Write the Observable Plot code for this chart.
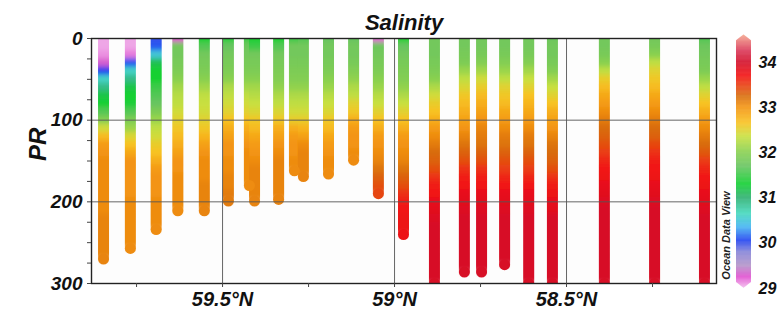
<!DOCTYPE html>
<html>
<head>
<meta charset="utf-8">
<script src="https://cdn.jsdelivr.net/npm/d3@7"></script>
<script src="https://cdn.jsdelivr.net/npm/@observablehq/plot@0.6"></script>
<style>
  html, body { margin: 0; padding: 0; background: #fff; }
  #wrap { position: relative; width: 779px; height: 316px; overflow: hidden; }
  #wrap svg { position: absolute; top: 0; }
</style>
</head>
<body>
<div id="wrap"></div>
<script>
// ---- Data (Ocean Data View salinity section) ----
const chartTitle = "Salinity";
const yLabel = "PR";
const watermark = "Ocean Data View";

// station latitudes (°N), west/north on the left
const stationLat = [59.846, 59.768, 59.693, 59.630, 59.553, 59.483, 59.422, 59.407,
  59.337, 59.291, 59.265, 59.192, 59.119, 59.047, 58.974, 58.884,
  58.797, 58.747, 58.680, 58.610, 58.541, 58.390, 58.244, 58.099];

// deepest sample of each station (dbar)
const stationBottom = [270, 257, 234, 211, 211, 199, 180, 199,
  197, 162, 169, 166, 149, 190, 240, 300,
  286, 286, 277, 300, 300, 300, 300, 300];

// salinity every 10 dbar starting at 0 (last value reaches the bottom)
const salinityProfiles = [
  [29.05,29.05,29.1,29.3,30.05,30.6,30.9,31.2,31.3,31.6,31.95,32.4,32.7,32.95,33.0,33.05,33.05,33.05,33.05,33.05,33.05,33.05,33.1,33.1,33.1,33.1,33.1,33.1],
  [29.05,29.05,29.15,30.1,30.6,30.9,31.2,31.3,31.35,31.6,31.9,32.1,32.45,32.65,32.85,33.0,33.0,33.0,33.0,33.0,33.05,33.05,33.05,33.05,33.05,33.05],
  [30.0,30.1,30.5,31.15,31.3,31.3,31.5,31.6,31.7,31.9,32.1,32.3,32.4,32.55,32.65,32.8,32.95,33.0,33.0,33.0,33.05,33.05,33.05,33.05],
  [29.25,31.8,31.8,31.85,31.9,32.0,32.15,32.25,32.3,32.4,32.5,32.6,32.7,32.8,32.9,33.0,33.0,33.05,33.05,33.05,33.05,33.05],
  [31.3,31.6,31.8,31.85,31.9,32.0,32.15,32.3,32.35,32.4,32.5,32.6,32.75,32.9,33.0,33.05,33.05,33.05,33.1,33.1,33.1,33.1],
  [31.4,31.7,31.8,31.85,31.9,32.0,32.2,32.3,32.4,32.5,32.65,32.8,32.9,33.0,33.0,33.05,33.05,33.1,33.1,33.15],
  [31.5,31.75,31.8,31.85,31.9,32.0,32.15,32.3,32.4,32.5,32.65,32.8,32.9,33.0,33.05,33.05,33.05,33.05,33.05],
  [31.3,31.5,31.8,31.85,31.9,32.0,32.15,32.25,32.35,32.45,32.6,32.7,32.85,32.95,33.0,33.05,33.1,33.1,33.1,33.1],
  [31.3,31.6,31.8,31.85,31.9,31.95,32.05,32.2,32.3,32.45,32.6,32.8,32.9,33.0,33.05,33.1,33.1,33.1,33.1,33.1],
  [31.5,31.8,31.8,31.85,31.9,31.95,32.05,32.2,32.3,32.4,32.55,32.8,32.95,33.0,33.0,33.05,33.05],
  [31.6,31.8,31.8,31.85,31.9,31.95,32.05,32.2,32.3,32.4,32.55,32.75,32.9,33.05,33.1,33.1,33.1],
  [31.7,31.8,31.8,31.85,31.9,32.0,32.1,32.25,32.35,32.45,32.6,32.7,32.85,32.95,33.0,33.05,33.05],
  [31.7,31.8,31.8,31.85,31.95,32.05,32.2,32.3,32.5,32.6,32.8,32.95,33.0,33.0,33.05],
  [29.2,31.75,31.8,31.85,31.9,32.0,32.1,32.25,32.35,32.5,32.65,32.8,32.95,33.0,33.05,33.1,33.2,33.3,33.4,33.45],
  [31.3,31.7,31.8,31.85,31.9,31.95,32.05,32.2,32.35,32.5,32.65,32.8,32.95,33.0,33.05,33.1,33.2,33.3,33.4,33.55,33.65,33.7,33.75,33.75,33.75],
  [31.8,31.8,31.8,31.85,31.9,32.0,32.2,32.4,32.55,32.65,32.8,32.95,33.05,33.15,33.25,33.3,33.4,33.55,33.65,33.7,33.8,33.85,33.9,33.95,33.95,33.95,33.95,33.95,33.95,33.95,33.95],
  [31.8,31.8,31.85,31.9,32.1,32.3,32.45,32.6,32.7,32.8,32.9,33.0,33.1,33.2,33.3,33.4,33.55,33.65,33.7,33.8,33.85,33.9,33.95,33.95,33.95,33.95,33.95,33.95,33.95],
  [31.8,31.8,31.85,31.95,32.15,32.4,32.55,32.7,32.8,32.9,33.0,33.1,33.15,33.2,33.3,33.4,33.55,33.65,33.7,33.8,33.85,33.9,33.95,33.95,33.95,33.95,33.95,33.95,33.95],
  [31.8,31.8,31.85,31.95,32.1,32.3,32.5,32.6,32.7,32.85,32.95,33.05,33.15,33.2,33.3,33.4,33.5,33.6,33.7,33.8,33.85,33.9,33.95,33.95,33.95,33.95,33.95,33.95],
  [31.8,31.8,31.85,31.95,32.15,32.35,32.5,32.65,32.75,32.85,32.95,33.05,33.15,33.2,33.3,33.4,33.5,33.6,33.7,33.8,33.85,33.9,33.95,33.95,33.95,33.95,33.95,33.95,33.95,33.95,33.95],
  [31.75,31.8,31.8,31.85,31.95,32.15,32.35,32.5,32.65,32.8,32.9,33.0,33.1,33.2,33.25,33.3,33.4,33.55,33.65,33.75,33.8,33.85,33.95,33.95,33.95,33.95,33.95,33.95,33.95,33.95,33.95],
  [31.8,31.8,31.85,32.0,32.3,32.55,32.7,32.85,32.95,33.05,33.15,33.25,33.3,33.4,33.5,33.6,33.7,33.75,33.8,33.85,33.9,33.95,33.95,33.95,33.95,33.95,33.95,33.95,33.95,33.95,33.95],
  [31.8,31.85,32.0,32.3,32.5,32.6,32.7,32.85,32.95,33.05,33.15,33.25,33.3,33.45,33.55,33.65,33.7,33.75,33.8,33.85,33.9,33.95,33.95,33.95,33.95,33.95,33.95,33.95,33.95,33.95,33.95],
  [31.6,31.75,31.8,31.85,31.9,32.1,32.3,32.5,32.65,32.8,32.95,33.05,33.15,33.25,33.35,33.5,33.6,33.7,33.75,33.8,33.85,33.9,33.95,33.95,33.95,33.95,33.95,33.95,33.95,33.95,33.95]
];

// axis ticks
const latTicks = [59.75, 59.5, 59.25, 59.0, 58.75, 58.5, 58.25];
const latLabelled = [59.5, 59.0, 58.5];
const depthTicks = [0,25,50,75,100,125,150,175,200,225,250,275,300];
const depthLabelled = [0,100,200,300];
const colorbarTicks = [29,30,31,32,33,34];

// ODV-like palette stops
const paletteValues = [29.0, 29.25, 29.5, 29.8, 30.05, 30.35, 30.65, 31.0, 31.3, 31.7, 32.0, 32.35, 32.65, 33.0, 33.25, 33.5, 33.7, 34.0, 34.25, 34.6];
const paletteColors = ["#f2bcec","#e050d0","#b294c8","#8484d8","#2244f0","#44b4f2","#44d8bc","#2eb070","#12d032","#68c460","#88d050","#c8e040","#f8c222","#f39412","#d86c0c","#ea3c12","#f21212","#d2102a","#da3858","#f4a890"];

// ---- build drawing tables ----
const segments = [];
const bottoms = [];
stationLat.forEach((lat, i) => {
  const prof = salinityProfiles[i];
  const bottom = stationBottom[i];
  prof.forEach((s, j) => {
    const d = j * 10;
    const last = j === prof.length - 1;
    segments.push({lat, y1: j === 0 ? -12 : d - 5, y2: last ? bottom : Math.min(bottom, d + 6), sal: s});
  });
  bottoms.push({lat, depth: bottom, sal: prof[prof.length - 1]});
});

const colorScale = {type: "linear", domain: paletteValues, range: paletteColors, interpolate: "rgb", clamp: true};
const font = "'Liberation Sans', Arial, sans-serif";

const main = Plot.plot({
  width: 779, height: 316,
  marginLeft: 91, marginRight: 63, marginTop: 38, marginBottom: 33,
  style: {fontFamily: font, fontWeight: "bold", fontStyle: "italic", fontSize: "19px", color: "#111", background: "transparent"},
  x: {domain: [59.881, 58.064]},
  y: {domain: [0, 300], reverse: true},
  color: colorScale,
  marks: [
    Plot.frame({fill: "#fdfdfd", stroke: null}),
    Plot.ruleX(segments, {x: "lat", y1: "y1", y2: "y2", stroke: "sal", strokeWidth: 11, clip: true}),
    Plot.dot(bottoms, {x: "lat", y: "depth", fill: "sal", r: 5.5, clip: true}),
    Plot.gridX(latLabelled, {stroke: "#555", strokeOpacity: 1, strokeWidth: 0.9}),
    Plot.gridY([100, 200], {stroke: "#555", strokeOpacity: 1, strokeWidth: 0.9}),
    Plot.frame({stroke: "#222", strokeWidth: 1.4}),
    Plot.axisX({ticks: latTicks, tickFormat: d => latLabelled.includes(d) ? `${d}°N` : "", tickSize: 4, tickPadding: 4, fontSize: 20, label: null, stroke: "#444"}),
    Plot.axisY({ticks: depthTicks, tickFormat: d => depthLabelled.includes(d) ? String(d) : "", tickSize: 4, tickPadding: 5, fontSize: 19, label: null, stroke: "#444"}),
    Plot.text([yLabel], {frameAnchor: "left", dx: -53, rotate: -90, fontSize: 24, fill: "#111"}),
    Plot.text([chartTitle], {frameAnchor: "top", dy: -24, fontSize: 22, fill: "#111"})
  ]
});
main.style.left = "0px";
// soften the 10-dbar steps vertically, like ODV's smooth colouring
{
  const ns = "http://www.w3.org/2000/svg";
  const defs = document.createElementNS(ns, "defs");
  const filter = document.createElementNS(ns, "filter");
  filter.setAttribute("id", "vblur");
  filter.setAttribute("x", "-5%"); filter.setAttribute("y", "-5%");
  filter.setAttribute("width", "110%"); filter.setAttribute("height", "110%");
  const blur = document.createElementNS(ns, "feGaussianBlur");
  blur.setAttribute("stdDeviation", "0 2.6");
  filter.appendChild(blur);
  defs.appendChild(filter);
  main.insertBefore(defs, main.firstChild);
  const ruleGroup = main.querySelector('g[aria-label="rule"]');
  if (ruleGroup) ruleGroup.setAttribute("filter", "url(#vblur)");
}
document.getElementById("wrap").appendChild(main);

// ---- colour bar ----
const rampStep = 0.01;
const ramp = d3.range(29.0, 34.6, rampStep).map(v => {
  let inset = 0;
  if (v > 34.47) inset = (v - 34.47) / 0.13 * 0.5;
  if (v < 29.13) inset = (29.13 - v) / 0.13 * 0.5;
  return {v, x1: inset, x2: 1 - inset};
});
const bar = Plot.plot({
  width: 79, height: 316,
  marginLeft: 36, marginRight: 28, marginTop: 0, marginBottom: 0,
  style: {fontFamily: font, fontWeight: "bold", fontStyle: "italic", fontSize: "16px", color: "#111", background: "transparent"},
  x: {domain: [0, 1], axis: null},
  y: {domain: [29, 34], range: [288, 62]},
  color: colorScale,
  marks: [
    Plot.rect(ramp, {x1: "x1", x2: "x2", y1: "v", y2: d => d.v + rampStep * 1.5, fill: "v"}),
    Plot.axisY({anchor: "right", ticks: colorbarTicks, tickFormat: d => String(d), tickSize: 0, tickPadding: 7, fontSize: 16, label: null}),
    Plot.text([watermark], {frameAnchor: "bottom-left", dx: -6.5, dy: -81, rotate: -90, fontSize: 11, textAnchor: "middle", fill: "#222"})
  ]
});
bar.style.left = "700px";
document.getElementById("wrap").appendChild(bar);
</script>
</body>
</html>
